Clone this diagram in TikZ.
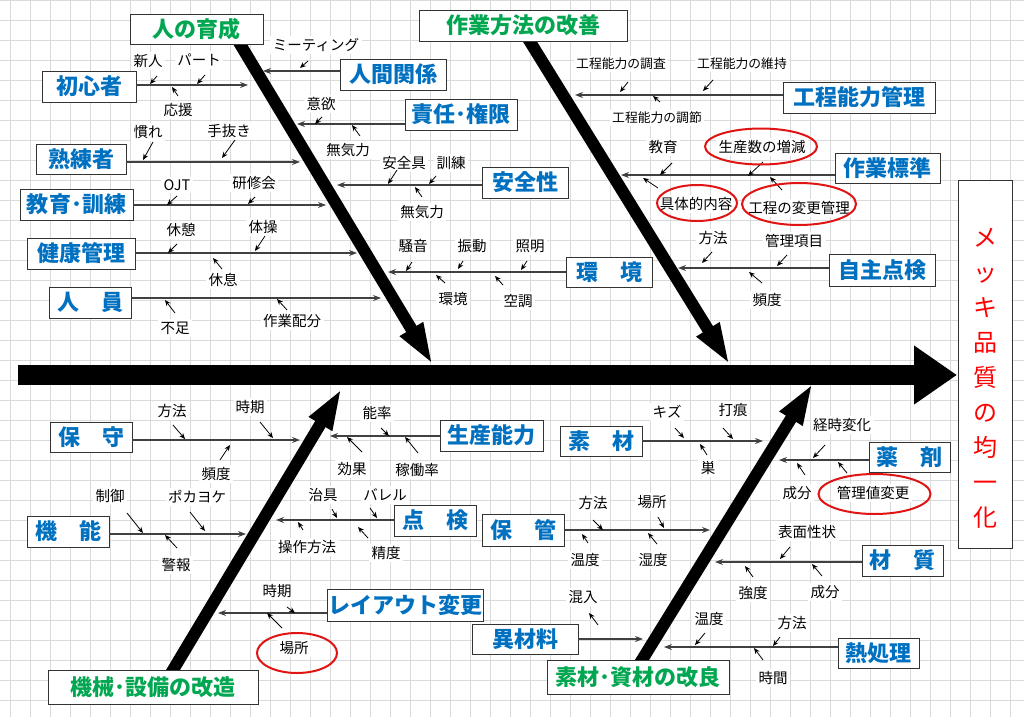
\documentclass[tikz,border=0pt]{standalone}
\usepackage{fontspec}
\setmainfont{Noto Sans CJK JP}
\usetikzlibrary{arrows.meta,shapes.geometric}
\definecolor{catblue}{RGB}{0,112,192}
\definecolor{catgreen}{RGB}{0,166,80}
\definecolor{gridc}{RGB}{218,218,218}
\definecolor{ringred}{RGB}{225,20,20}
\begin{document}
\begin{tikzpicture}[x=1pt,y=-1pt,
  cat/.style={draw=black!80, line width=0.9pt, fill=white, text=catblue, font=\fontsize{22}{26}\selectfont\bfseries, inner sep=0pt},
  catg/.style={cat, text=catgreen},
  lbl/.style={fill=white, inner sep=2.5pt, font=\fontsize{14.5}{17}\selectfont},
  lbls/.style={lbl, font=\fontsize{12.8}{15}\selectfont},
  sub/.style={draw=black!75, line width=1.1pt, -{Stealth[length=8pt,width=6pt]}},
  tin/.style={line width=0.8pt, -{Stealth[length=6pt,width=5pt]}},
  bone/.style={line width=12pt, -{Triangle[length=42pt,width=24pt]}},
  ring/.style={draw=ringred, line width=2pt, ellipse, inner sep=0pt}]
\useasboundingbox (0,0) rectangle (1024,717);
\fill[white] (0,0) rectangle (1024,717);
\foreach \gx in {10,30,...,1010} \draw[gridc, line width=0.8pt] (\gx,0) -- (\gx,717);
\foreach \gy in {0,20,...,700} \draw[gridc, line width=0.8pt] (0,\gy) -- (1024,\gy);

% ---------- small labels ----------
\node[lbl] (l01) at (148,61) {新人};
\node[lbl] (l02) at (199,60) {パート};
\node[lbl] (l03) at (178,110) {応援};
\node[lbl] (l04) at (148,132) {慣れ};
\node[lbl] (l05) at (229,131) {手抜き};
\node[lbl] (l06) at (177,185) {OJT};
\node[lbl] (l07) at (254,183) {研修会};
\node[lbl] (l08) at (181,230) {休憩};
\node[lbl] (l09) at (263,227) {体操};
\node[lbl] (l10) at (223,280) {休息};
\node[lbl] (l11) at (175,328) {不足};
\node[lbl] (l12) at (292,321) {作業配分};
\node[lbl] (l13) at (316,45) {ミーティング};
\node[lbl] (l14) at (321,104) {意欲};
\node[lbl] (l15) at (348,150) {無気力};
\node[lbl] (l16) at (404,163) {安全具};
\node[lbl] (l17) at (451,163) {訓練};
\node[lbl] (l18) at (422,212) {無気力};
\node[lbl] (l19) at (413,246) {騒音};
\node[lbl] (l20) at (472,246) {振動};
\node[lbl] (l21) at (530,246) {照明};
\node[lbl] (l22) at (453,299) {環境};
\node[lbl] (l23) at (518,301) {空調};
\node[lbls] (l24) at (621,64) {工程能力の調査};
\node[lbls] (l25) at (742,64) {工程能力の維持};
\node[lbls] (l26) at (657,118) {工程能力の調節};
\node[lbl] (l27) at (663,147) {教育};
\node[lbl] (l28) at (762,147) {生産数の増減};
\node[lbl] (l29) at (696,204) {具体的内容};
\node[lbl] (l30) at (799,208) {工程の変更管理};
\node[lbl] (l31) at (713,238) {方法};
\node[lbl] (l32) at (794,241) {管理項目};
\node[lbl] (l33) at (767,300) {頻度};
\node[lbl] (l34) at (172,411) {方法};
\node[lbl] (l35) at (250,407) {時期};
\node[lbl] (l36) at (216,474) {頻度};
\node[lbl] (l37) at (110,496) {制御};
\node[lbl] (l38) at (197,497) {ポカヨケ};
\node[lbl] (l39) at (176,565) {警報};
\node[lbl] (l40) at (377,413) {能率};
\node[lbl] (l41) at (352,469) {効果};
\node[lbl] (l42) at (417,470) {稼働率};
\node[lbl] (l43) at (323,495) {治具};
\node[lbl] (l44) at (385,495) {バレル};
\node[lbl] (l45) at (307,547) {操作方法};
\node[lbl] (l46) at (386,553) {精度};
\node[lbl] (l47) at (277,591) {時期};
\node[lbl] (l48) at (294,648) {場所};
\node[lbl] (l49) at (667,412) {キズ};
\node[lbl] (l50) at (733,410) {打痕};
\node[lbl] (l51) at (708,468) {巣};
\node[lbl] (l52) at (842,425) {経時変化};
\node[lbl] (l53) at (797,493) {成分};
\node[lbl] (l54) at (873,493) {管理値変更};
\node[lbl] (l55) at (593,503) {方法};
\node[lbl] (l56) at (652,502) {場所};
\node[lbl] (l57) at (585,560) {温度};
\node[lbl] (l58) at (653,560) {湿度};
\node[lbl] (l59) at (807,532) {表面性状};
\node[lbl] (l60) at (753,593) {強度};
\node[lbl] (l61) at (825,592) {成分};
\node[lbl] (l62) at (583,597) {混入};
\node[lbl] (l63) at (709,619) {温度};
\node[lbl] (l64) at (792,623) {方法};
\node[lbl] (l65) at (773,678) {時間};

% ---------- spine and bones ----------
\coordinate (spL) at (18,375);
\coordinate (spR) at (957,375);
\draw[line width=20pt, -{Triangle[length=43pt,width=56pt]}] (spL) -- (spR);
\coordinate (b1s) at (234,34);  \coordinate (b1e) at (433,365);
\coordinate (b2s) at (524,32);  \coordinate (b2e) at (730,365);
\coordinate (b3s) at (167,680); \coordinate (b3e) at (342,388);
\coordinate (b4s) at (637,668); \coordinate (b4e) at (813,383);
\draw[bone] (b1s) -- (b1e);
\draw[bone] (b2s) -- (b2e);
\draw[bone] (b3s) -- (b3e);
\draw[bone] (b4s) -- (b4e);

% ---------- category boxes ----------
\node[catg, minimum width=133, minimum height=30] (c-jinzai) at (196.5,29) {人の育成};
\node[cat, minimum width=94, minimum height=31] (c-shoshin) at (89,86.5) {初心者};
\node[cat, minimum width=90, minimum height=30] (c-jukuren) at (81,159) {熟練者};
\node[cat, minimum width=113, minimum height=31] (c-kyoiku) at (76.5,204.5) {教育･訓練};
\node[cat, minimum width=108, minimum height=31] (c-kenko) at (81,253.5) {健康管理};
\node[cat, minimum width=82, minimum height=31] (c-jinin) at (90,302.5) {人　員};
\node[cat, minimum width=106, minimum height=31] (c-ningen) at (393,74.5) {人間関係};
\node[cat, minimum width=112, minimum height=31] (c-sekinin) at (461,114.5) {責任･権限};
\node[cat, minimum width=86, minimum height=31] (c-anzen) at (525,182.5) {安全性};
\node[cat, minimum width=86, minimum height=30] (c-kankyo) at (609,272) {環　境};
\node[catg, minimum width=208, minimum height=31] (c-sagyo) at (523,25.5) {作業方法の改善};
\node[cat, minimum width=152, minimum height=31] (c-kotei) at (859,97.5) {工程能力管理};
\node[cat, minimum width=105, minimum height=30] (c-hyojun) at (887.5,168) {作業標準};
\node[cat, minimum width=106, minimum height=32] (c-jishu) at (882,270) {自主点検};
\node[cat, minimum width=82, minimum height=30] (c-hoshu) at (91,437) {保　守};
\node[cat, minimum width=82, minimum height=31] (c-kino) at (68,531.5) {機　能};
\node[cat, minimum width=103, minimum height=31] (c-seisan) at (491.5,435.5) {生産能力};
\node[cat, minimum width=82, minimum height=31] (c-tenken) at (435,520.5) {点　検};
\node[cat, minimum width=156, minimum height=32] (c-layout) at (405,605) {レイアウト変更};
\node[catg, minimum width=210, minimum height=34] (c-kikai) at (153,687) {機械･設備の改造};
\node[cat, minimum width=82, minimum height=30] (c-sozai) at (601,441) {素　材};
\node[cat, minimum width=82, minimum height=32] (c-hokan) at (523,530) {保　管};
\node[cat, minimum width=81, minimum height=30] (c-yakuzai) at (909.5,457) {薬　剤};
\node[cat, minimum width=81, minimum height=31] (c-zaishitsu) at (902.5,560.5) {材　質};
\node[cat, minimum width=106, minimum height=30] (c-izai) at (525,639.5) {異材料};
\node[cat, minimum width=81, minimum height=30] (c-netsu) at (878.5,653) {熱処理};
\node[catg, minimum width=182, minimum height=34] (c-kairyo) at (638,677) {素材･資材の改良};

% effect box
\node[draw=black!80, line width=0.9pt, fill=white, minimum width=54, minimum height=368, inner sep=0pt] (effbox) at (985,364) {};
\node[text=red, align=center, font=\fontsize{24}{35}\selectfont, inner sep=0pt] (eff) at (985,378) {メ\\ッ\\キ\\品\\質\\の\\均\\一\\化};

% ---------- sub-bones ----------
\coordinate (e01) at (248,85);  \draw[sub] (c-shoshin.east |- e01) -- (e01);
\coordinate (e02) at (300,162); \draw[sub] (c-jukuren.east |- e02) -- (e02);
\coordinate (e03) at (326,205); \draw[sub] (c-kyoiku.east |- e03) -- (e03);
\coordinate (e04) at (357,253); \draw[sub] (c-kenko.east |- e04) -- (e04);
\coordinate (e05) at (381,298); \draw[sub] (c-jinin.east |- e05) -- (e05);
\coordinate (e06) at (263,71);  \draw[sub] (c-ningen.west |- e06) -- (e06);
\coordinate (e07) at (297,124); \draw[sub] (c-sekinin.west |- e07) -- (e07);
\coordinate (e08) at (337,185); \draw[sub] (c-anzen.west |- e08) -- (e08);
\coordinate (e09) at (388,272); \draw[sub] (c-kankyo.west |- e09) -- (e09);
\coordinate (e10) at (575,95);  \draw[sub] (c-kotei.west |- e10) -- (e10);
\coordinate (e11) at (621,175); \draw[sub] (c-hyojun.west |- e11) -- (e11);
\coordinate (e12) at (678,268); \draw[sub] (c-jishu.west |- e12) -- (e12);
\coordinate (e13) at (300,440); \draw[sub] (c-hoshu.east |- e13) -- (e13);
\coordinate (e14) at (246,534); \draw[sub] (c-kino.east |- e14) -- (e14);
\coordinate (e15) at (330,436); \draw[sub] (c-seisan.west |- e15) -- (e15);
\coordinate (e16) at (276,520); \draw[sub] (c-tenken.west |- e16) -- (e16);
\coordinate (e17) at (218,613); \draw[sub] (c-layout.west |- e17) -- (e17);
\coordinate (e18) at (763,441); \draw[sub] (c-sozai.east |- e18) -- (e18);
\coordinate (e19) at (710,530); \draw[sub] (c-hokan.east |- e19) -- (e19);
\coordinate (e20) at (643,639); \draw[sub] (c-izai.east |- e20) -- (e20);
\coordinate (e21) at (779,460); \draw[sub] (c-yakuzai.west |- e21) -- (e21);
\coordinate (e22) at (715,562); \draw[sub] (c-zaishitsu.west |- e22) -- (e22);
\coordinate (e23) at (664,647); \draw[sub] (c-netsu.west |- e23) -- (e23);

% ---------- small arrows ----------
\draw[tin] (157,76) -- (150,84);
\draw[tin] (205,75) -- (197,84);
\draw[tin] (178,96) -- (172,87);
\draw[tin] (153,142) -- (143,160);
\draw[tin] (235,140) -- (222,158);
\draw[tin] (177,196) -- (167,205);
\draw[tin] (255,197) -- (248,204);
\draw[tin] (177,244) -- (168,253);
\draw[tin] (265,236) -- (255,251);
\draw[tin] (222,269) -- (213,258);
\draw[tin] (175,313) -- (165,300);
\draw[tin] (287,310) -- (277,299);
\draw[tin] (308,61) -- (300,68);
\draw[tin] (322,117) -- (315,124);
\draw[tin] (360,136) -- (352,125);
\draw[tin] (397,170) -- (388,184);
\draw[tin] (436,176) -- (429,184);
\draw[tin] (422,197) -- (415,187);
\draw[tin] (412,262) -- (406,271);
\draw[tin] (463,261) -- (458,269);
\draw[tin] (527,261) -- (521,270);
\draw[tin] (445,283) -- (436,275);
\draw[tin] (503,285) -- (495,276);
\draw[tin] (628,82) -- (620,92);
\draw[tin] (713,80) -- (703,91);
\draw[tin] (660,102) -- (653,96);
\draw[tin] (672,163) -- (660,175);
\draw[tin] (763,162) -- (748,176);
\draw[tin] (658,188) -- (643,178);
\draw[tin] (782,190) -- (770,177);
\draw[tin] (712,252) -- (702,263);
\draw[tin] (787,255) -- (777,266);
\draw[tin] (762,283) -- (749,272);
\draw[tin] (173,425) -- (185,439);
\draw[tin] (260,422) -- (273,438);
\draw[tin] (220,460) -- (230,445);
\draw[tin] (127,513) -- (143,533);
\draw[tin] (190,512) -- (205,531);
\draw[tin] (177,548) -- (165,535);
\draw[tin] (381,428) -- (389,436);
\draw[tin] (362,452) -- (347,437);
\draw[tin] (418,453) -- (405,437);
\draw[tin] (332,509) -- (337,518);
\draw[tin] (370,508) -- (377,518);
\draw[tin] (303,530) -- (298,522);
\draw[tin] (368,538) -- (358,527);
\draw[tin] (287,607) -- (295,613);
\draw[tin] (282,628) -- (267,613);
\draw[tin] (675,428) -- (684,438);
\draw[tin] (723,428) -- (733,439);
\draw[tin] (707,455) -- (700,444);
\draw[tin] (825,445) -- (813,458);
\draw[tin] (805,475) -- (797,463);
\draw[tin] (847,473) -- (838,462);
\draw[tin] (593,520) -- (603,530);
\draw[tin] (658,517) -- (664,528);
\draw[tin] (588,543) -- (582,534);
\draw[tin] (657,544) -- (648,533);
\draw[tin] (790,547) -- (780,559);
\draw[tin] (753,577) -- (745,566);
\draw[tin] (822,576) -- (812,564);
\draw[tin] (598,625) -- (589,613);
\draw[tin] (705,633) -- (695,645);
\draw[tin] (780,637) -- (773,646);
\draw[tin] (763,660) -- (754,648);

% ---------- red rings ----------
\node[ring, minimum width=112, minimum height=36] (r1) at (761,146.5) {};
\node[ring, minimum width=80, minimum height=36] (r2) at (697,203) {};
\node[ring, minimum width=114, minimum height=42] (r3) at (799,204) {};
\node[ring, minimum width=112, minimum height=40] (r4) at (874.5,494) {};
\node[ring, minimum width=80, minimum height=40] (r5) at (297,653) {};
\end{tikzpicture}
\end{document}
